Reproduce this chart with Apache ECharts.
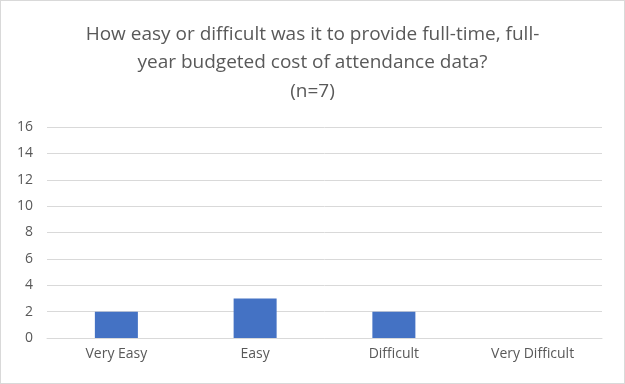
<!DOCTYPE html>
<html><head><meta charset="utf-8">
<script src="https://cdn.jsdelivr.net/npm/echarts@6/dist/echarts.min.js"></script>
<style>html,body{margin:0;padding:0;background:#fff}#c{width:623px;height:382px;border:1px solid #d9d9d9}</style>
</head><body><div id="c"></div>
<script>
const categories = ["Very Easy", "Easy", "Difficult", "Very Difficult"];
const values = [2, 3, 2, 0];
const titleText = "How easy or difficult was it to provide full-time, full-\nyear budgeted cost of attendance data?\n(n=7)";
const chart = echarts.init(document.getElementById('c'));
chart.setOption({
  animation: false,
  title: {
    text: titleText, left: 'center', top: 14,
    textStyle: {fontFamily: 'Open Sans, Liberation Sans, sans-serif', fontSize: 19, fontWeight: 'normal', color: '#595959', lineHeight: 28.5}
  },
  grid: {left: 46, right: 22, top: 126, bottom: 45},
  xAxis: {
    type: 'category', data: categories,
    axisLine: {lineStyle: {color: '#d9d9d9', width: 1}},
    axisTick: {show: false},
    axisLabel: {color: '#595959', fontSize: 14, fontFamily: 'Open Sans, Liberation Sans, sans-serif', margin: 9}
  },
  yAxis: {
    type: 'value', min: 0, max: 16, interval: 2,
    axisLine: {show: false}, axisTick: {show: false},
    splitLine: {lineStyle: {color: '#d9d9d9', width: 1}},
    axisLabel: {color: '#595959', fontSize: 14, fontFamily: 'Open Sans, Liberation Sans, sans-serif', margin: 14}
  },
  series: [{type: 'bar', data: values, barWidth: '31%', itemStyle: {color: '#4472C4'}}]
});
</script></body></html>
